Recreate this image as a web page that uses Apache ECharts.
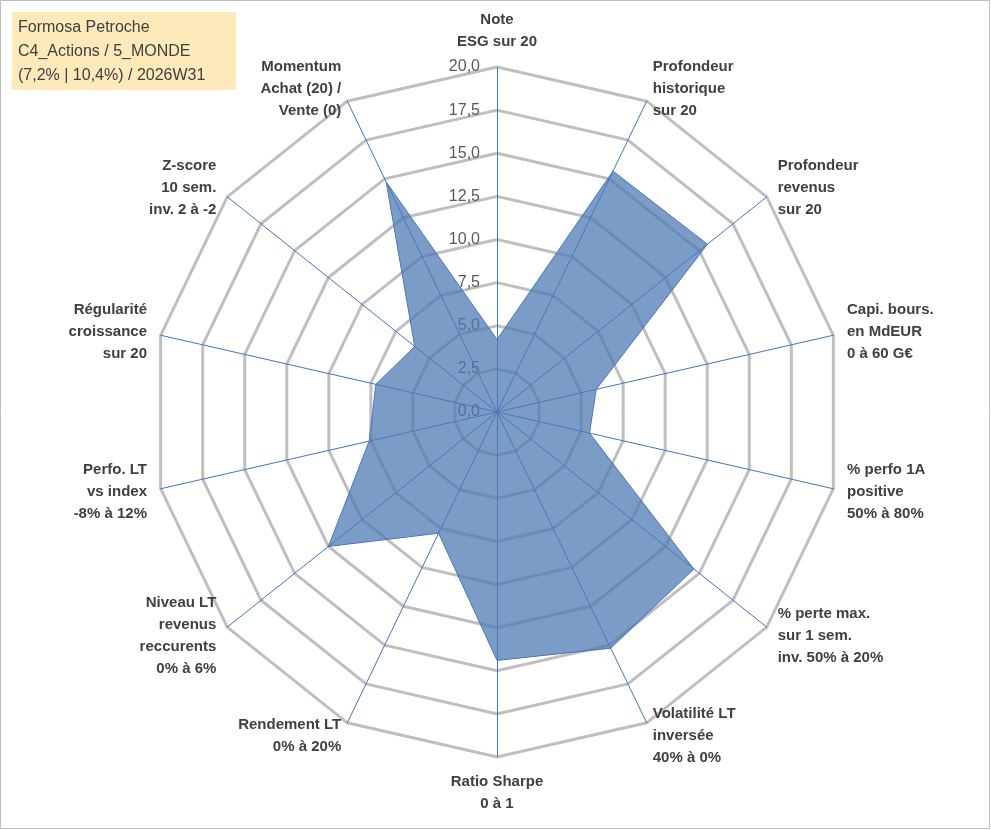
<!DOCTYPE html>
<html><head><meta charset="utf-8">
<script src="https://cdn.jsdelivr.net/npm/echarts@6/dist/echarts.min.js"></script>
<style>html,body{margin:0;padding:0;background:#fff}#c{width:991px;height:830px}</style>
</head><body><div id="c"></div>
<script>
// clockwise from top
const axisNames = [
 "Note\nESG sur 20","Profondeur\nhistorique\nsur 20","Profondeur\nrevenus\nsur 20",
 "Capi. bours.\nen MdEUR\n0 à 60 G€","% perfo 1A\npositive\n50% à 80%",
 "% perte max.\nsur 1 sem.\ninv. 50% à 20%","Volatilité LT\ninversée\n40% à 0%",
 "Ratio Sharpe\n0 à 1","Rendement LT\n0% à 20%","Niveau LT\nrevenus\nreccurents\n0% à 6%",
 "Perfo. LT\nvs index\n-8% à 12%","Régularité\ncroissance\nsur 20","Z-score\n10 sem.\ninv. 2 à -2",
 "Momentum\nAchat (20) /\nVente (0)"];
const values = [4.2,15.5,15.6,5.9,5.5,14.6,15.2,14.4,7.8,12.5,7.6,7.2,6.1,14.8];
const tickLabels = ["0,0","2,5","5,0","7,5","10,0","12,5","15,0","17,5","20,0"];
const title = "Formosa Petroche\nC4_Actions / 5_MONDE\n(7,2% | 10,4%) / 2026W31";

// ECharts radar runs counter-clockwise: reverse all but first
const order = [0].concat(axisNames.map((_,i)=>i).slice(1).reverse());
const ind = order.map(i=>({name:axisNames[i],max:20,min:0}));
const vals = order.map(i=>values[i]);

const chart = echarts.init(document.getElementById('c'));
chart.setOption({
 animation:false,
 graphic:[{type:'rect',shape:{x:0.5,y:0.5,width:989,height:828},style:{fill:'none',stroke:'#bfbfbf',lineWidth:1}},
  {type:'rect',shape:{x:12,y:12,width:224,height:78},style:{fill:'#fde9b9'}},
  {type:'text',left:18,top:16,style:{text:title,fontSize:16,lineHeight:24,fill:'#404040',fontFamily:'Liberation Sans'}}],
 radar:{
  center:[497,412],radius:345,startAngle:90,shape:'polygon',splitNumber:8,
  indicator:ind,nameGap:14,
  axisName:{color:'#404040',fontWeight:'bold',fontSize:15,lineHeight:22,fontFamily:'Liberation Sans'},
  axisLine:{lineStyle:{color:'#4472c4',width:1}},
  splitLine:{lineStyle:{color:'#bfbfbf',width:3}},
  splitArea:{show:false}
 },
 grid:{left:420,width:60,top:67,height:345},
 xAxis:{show:false,type:'value'},
 yAxis:{type:'value',min:0,max:20,interval:2.5,position:'right',axisLine:{show:false},axisTick:{show:false},splitLine:{show:false},
  axisLabel:{fontSize:16,color:'#595959',margin:0,align:'right',fontFamily:'Liberation Sans',formatter:(v,i)=>tickLabels[i]}},
 series:[{type:'radar',symbol:'none',data:[{value:vals}],
  lineStyle:{color:'#4472c4',width:1},areaStyle:{color:'#4f7bb4',opacity:0.75}}]
});
</script></body></html>
